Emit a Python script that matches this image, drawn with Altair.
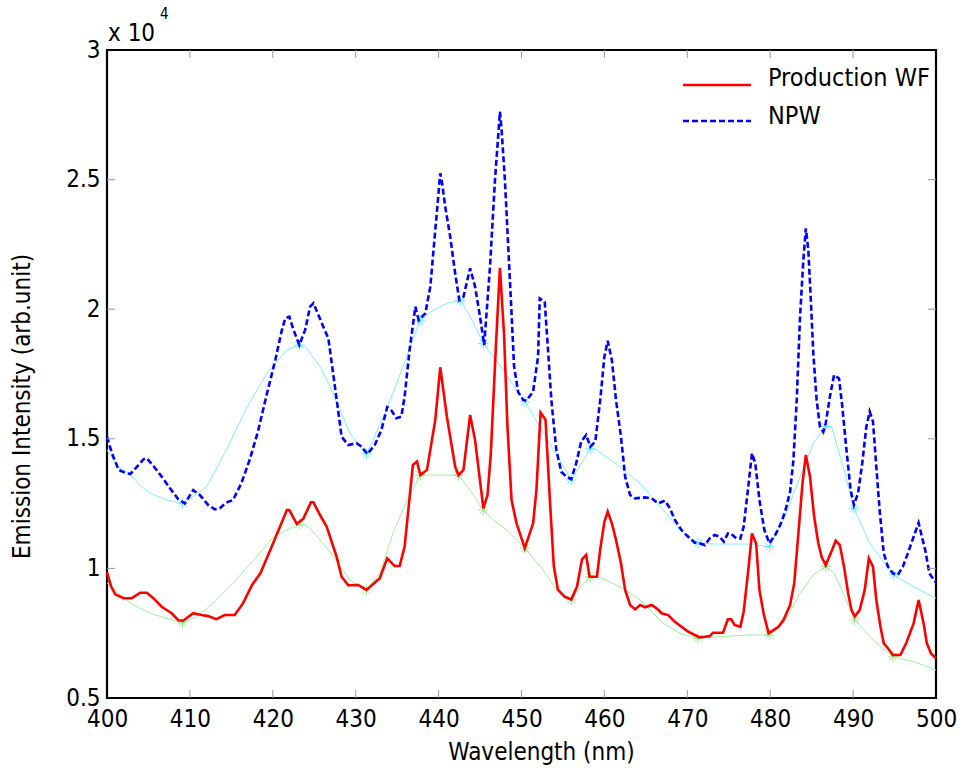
import altair as alt
import pandas as pd

# ---- data (intensity in units of 1e4 arb.unit) ----
wl_prod = [400.0, 400.5, 401.0, 402.0, 403.0, 404.0, 404.8, 405.6, 406.6, 407.8, 408.6, 409.2, 410.4,
           411.4, 412.2, 413.2, 414.2, 415.4, 416.4, 417.5, 418.5, 419.7, 420.7, 421.7, 422.0, 422.9,
           423.7, 424.6, 424.9, 425.7, 426.5, 427.7, 428.3, 429.1, 430.3, 431.3, 432.9, 433.8, 434.7,
           435.3, 435.9, 436.9, 437.4, 437.8, 438.6, 439.6, 440.2, 441.0, 442.0, 442.4, 443.0, 443.8,
           444.4, 445.4, 445.9, 446.3, 446.9, 447.4, 447.9, 448.3, 448.8, 449.4, 450.4, 451.4, 451.8,
           452.3, 452.9, 453.4, 453.9, 454.4, 455.2, 456.0, 456.7, 457.3, 457.8, 458.2, 459.1, 459.5,
           460.0, 460.4, 460.9, 461.4, 462.0, 462.5, 463.1, 463.7, 464.3, 464.9, 465.7, 466.3, 466.9,
           467.7, 468.5, 469.3, 470.1, 470.9, 471.5, 472.1, 472.7, 473.1, 474.3, 474.9, 475.3, 475.7,
           476.4, 476.8, 477.4, 477.8, 478.3, 478.7, 479.2, 479.8, 480.4, 481.0, 481.6, 482.4, 482.9,
           483.4, 483.9, 484.3, 484.8, 485.3, 485.8, 486.2, 486.7, 487.3, 487.9, 488.4, 488.9, 489.4,
           489.8, 490.2, 490.8, 491.4, 491.9, 492.4, 492.8, 493.3, 493.7, 494.2, 494.8, 495.7, 496.4,
           497.3, 497.9, 498.5, 498.9, 499.4, 500.0]
val_prod = [0.985, 0.93, 0.90, 0.885, 0.885, 0.906, 0.906, 0.885, 0.852, 0.827, 0.80, 0.798, 0.827,
            0.82, 0.816, 0.804, 0.82, 0.82, 0.865, 0.936, 0.981, 1.071, 1.148, 1.225, 1.225, 1.171,
            1.193, 1.255, 1.255, 1.206, 1.161, 1.045, 0.968, 0.935, 0.936, 0.917, 0.962, 1.039, 1.009,
            1.009, 1.084, 1.399, 1.412, 1.360, 1.380, 1.573, 1.776, 1.585, 1.392, 1.360, 1.380, 1.592,
            1.495, 1.232, 1.283, 1.444, 1.85, 2.16, 1.90, 1.55, 1.264, 1.174, 1.078, 1.174, 1.302,
            1.601, 1.573, 1.277, 1.007, 0.917, 0.891, 0.880, 0.930, 1.035, 1.052, 0.968, 0.968, 1.075,
            1.180, 1.219, 1.174, 1.110, 1.020, 0.917, 0.859, 0.842, 0.859, 0.850, 0.859, 0.846, 0.827,
            0.820, 0.794, 0.775, 0.756, 0.743, 0.734, 0.736, 0.739, 0.752, 0.752, 0.804, 0.804, 0.782,
            0.775, 0.833, 1.007, 1.135, 1.097, 0.917, 0.827, 0.750, 0.762, 0.775, 0.801, 0.859, 0.943,
            1.135, 1.33, 1.438, 1.354, 1.20, 1.097, 1.045, 1.013, 1.058, 1.107, 1.090, 1.007, 0.904,
            0.840, 0.814, 0.840, 0.917, 1.039, 1.007, 0.878, 0.775, 0.711, 0.692, 0.666, 0.666, 0.711,
            0.788, 0.878, 0.788, 0.711, 0.672, 0.653]

wl_npw = [400.0, 400.6, 401.4, 402.2, 402.8, 403.6, 404.4, 404.8, 405.6, 406.6, 407.6, 408.6, 409.4,
          410.4, 411.2, 412.2, 413.0, 413.6, 414.4, 415.2, 416.2, 417.2, 418.2, 419.2, 420.3, 421.1,
          421.5, 422.0, 422.5, 423.2, 423.9, 424.5, 424.9, 425.5, 426.1, 426.7, 427.5, 428.3, 429.1,
          430.1, 430.7, 431.4, 432.3, 433.1, 433.8, 434.3, 434.9, 435.5, 435.9, 436.5, 437.2, 437.6,
          438.4, 439.0, 439.6, 440.2, 440.4, 440.8, 441.4, 442.0, 442.5, 443.0, 443.8, 444.4, 445.0,
          445.5, 446.2, 446.8, 447.4, 447.6, 448.0, 448.4, 448.8, 449.1, 449.6, 450.2, 450.6, 451.4,
          452.0, 452.2, 452.8, 453.2, 453.6, 454.2, 454.8, 455.4, 456.0, 456.6, 457.2, 457.8, 458.3,
          458.9, 459.5, 460.0, 460.4, 460.9, 461.4, 462.0, 462.5, 463.1, 463.7, 464.9, 465.7, 466.5,
          467.3, 467.9, 468.5, 469.3, 470.1, 470.9, 471.5, 472.1, 472.7, 473.3, 473.9, 474.4, 474.9,
          475.3, 475.9, 476.4, 476.8, 477.4, 477.8, 478.2, 478.7, 479.3, 479.9, 480.6, 481.2, 481.8,
          482.4, 482.8, 483.2, 483.6, 484.0, 484.3, 484.6, 484.9, 485.2, 485.6, 486.0, 486.4, 486.7,
          487.2, 487.7, 488.3, 488.7, 489.2, 489.7, 490.1, 490.6, 491.1, 491.6, 492.0, 492.4, 492.8,
          493.2, 493.7, 494.2, 494.8, 495.4, 496.0, 496.6, 497.3, 497.9, 498.3, 498.7, 499.2, 500.0]
val_npw = [1.508, 1.444, 1.380, 1.369, 1.364, 1.392, 1.421, 1.425, 1.395, 1.354, 1.309, 1.267, 1.251,
           1.302, 1.283, 1.245, 1.228, 1.232, 1.254, 1.264, 1.328, 1.418, 1.527, 1.662, 1.804, 1.920,
           1.965, 1.971, 1.920, 1.862, 1.920, 2.010, 2.023, 1.978, 1.932, 1.888, 1.70, 1.508, 1.476,
           1.483, 1.47, 1.441, 1.476, 1.534, 1.622, 1.61, 1.579, 1.585, 1.662, 1.843, 2.01, 1.958,
           1.984, 2.087, 2.305, 2.524, 2.492, 2.395, 2.28, 2.138, 2.035, 2.048, 2.158, 2.087, 1.971,
           1.862, 2.164, 2.498, 2.762, 2.691, 2.498, 2.241, 1.984, 1.78, 1.68, 1.65, 1.647, 1.682,
           1.817, 2.042, 2.029, 1.843, 1.65, 1.457, 1.373, 1.354, 1.344, 1.406, 1.489, 1.515, 1.47,
           1.489, 1.65, 1.817, 1.878, 1.804, 1.65, 1.508, 1.354, 1.283, 1.27, 1.274, 1.27, 1.251,
           1.261, 1.232, 1.187, 1.148, 1.122, 1.099, 1.097, 1.090, 1.116, 1.129, 1.122, 1.103, 1.135,
           1.133, 1.116, 1.115, 1.161, 1.328, 1.444, 1.405, 1.264, 1.148, 1.097, 1.129, 1.167, 1.219,
           1.296, 1.418, 1.65, 1.971, 2.19, 2.312, 2.228, 2.035, 1.83, 1.65, 1.547, 1.527, 1.560,
           1.662, 1.746, 1.733, 1.624, 1.457, 1.302, 1.245, 1.290, 1.405, 1.547, 1.605, 1.566, 1.392,
           1.225, 1.058, 1.007, 0.981, 0.975, 1.007, 1.058, 1.122, 1.176, 1.122, 1.071, 0.981, 0.945]

wl_npw_base = [400.0, 401.4, 402.8, 404.0, 405.2, 407.2, 409.1, 410.4, 412.0, 414.4, 416.9, 419.3,
               421.7, 423.2, 424.1, 425.7, 426.9, 429.3, 431.3, 433.7, 435.7, 437.8, 439.4, 441.0,
               442.6, 443.6, 445.4, 447.8, 450.4, 453.4, 456.0, 458.3, 459.1, 461.9, 464.3, 467.1,
               469.1, 471.3, 473.5, 477.2, 479.9, 481.6, 483.6, 485.2, 486.7, 487.4, 488.8, 490.1,
               492.0, 494.9, 497.3, 500.0]
val_npw_base = [1.457, 1.39, 1.364, 1.32, 1.29, 1.264, 1.251, 1.277, 1.315, 1.457, 1.624, 1.753,
                1.843, 1.862, 1.849, 1.778, 1.701, 1.521, 1.441, 1.611, 1.778, 1.958, 1.997, 2.023,
                2.033, 1.984, 1.868, 1.765, 1.643, 1.483, 1.341, 1.461, 1.457, 1.392, 1.328, 1.225,
                1.148, 1.097, 1.094, 1.094, 1.084, 1.187, 1.354, 1.483, 1.547, 1.547, 1.392, 1.232,
                1.097, 0.975, 0.929, 0.885]
wl_npw_knots = [409.1, 423.2, 431.3, 437.8, 442.6, 445.4, 450.4, 456.0, 458.3, 471.3, 479.9,
                486.7, 490.1, 494.9]
val_npw_knots = [1.251, 1.862, 1.441, 1.958, 2.033, 1.868, 1.643, 1.341, 1.461, 1.097, 1.084,
                 1.547, 1.232, 0.975]

wl_prod_base = [400.0, 401.6, 403.2, 405.2, 407.2, 409.1, 410.8, 412.8, 415.2, 417.7, 420.1, 421.7,
                423.2, 424.3, 425.7, 426.9, 429.3, 431.3, 432.9, 434.5, 436.2, 437.8, 442.4, 443.8,
                445.4, 446.6, 448.2, 450.4, 452.6, 454.2, 456.0, 457.5, 458.3, 459.7, 461.9, 464.3,
                467.1, 469.1, 471.3, 473.5, 477.2, 479.9, 481.6, 483.6, 485.2, 486.7, 487.6, 489.0,
                490.2, 492.4, 494.8, 497.3, 500.0]
val_prod_base = [0.943, 0.897, 0.859, 0.827, 0.807, 0.79, 0.814, 0.865, 0.943, 1.032, 1.122, 1.148,
                 1.171, 1.161, 1.11, 1.064, 0.955, 0.917, 0.981, 1.135, 1.264, 1.36, 1.36, 1.302,
                 1.225, 1.187, 1.148, 1.078, 0.994, 0.917, 0.878, 0.943, 0.968, 0.962, 0.929, 0.878,
                 0.788, 0.75, 0.730, 0.736, 0.743, 0.743, 0.788, 0.904, 0.975, 1.007, 0.987, 0.891,
                 0.801, 0.724, 0.659, 0.64, 0.608]
wl_prod_knots = [409.1, 423.2, 431.3, 437.8, 442.4, 445.4, 450.4, 456.0, 458.3, 471.3, 479.9,
                 486.7, 490.2, 494.8]
val_prod_knots = [0.79, 1.171, 0.917, 1.36, 1.36, 1.225, 1.078, 0.878, 0.968, 0.730, 0.743,
                  1.007, 0.801, 0.659]

series_names = ["Production WF", "NPW"]
x_ticks = [410, 420, 430, 440, 450, 460, 470, 480, 490]
y_ticks = [1.0, 1.5, 2.0, 2.5]

# ---- tables ----
prod_df = pd.DataFrame({"wl": wl_prod, "val": val_prod})
npw_df = pd.DataFrame({"wl": wl_npw, "val": val_npw})
npw_base_df = pd.DataFrame({"wl": wl_npw_base, "val": val_npw_base})
prod_base_df = pd.DataFrame({"wl": wl_prod_base, "val": val_prod_base})
npw_knot_df = pd.DataFrame({"wl": wl_npw_knots, "val": val_npw_knots})
prod_knot_df = pd.DataFrame({"wl": wl_prod_knots, "val": val_prod_knots})
xt_df = pd.DataFrame({"t": x_ticks})
yt_df = pd.DataFrame({"t": y_ticks})
leg_df = pd.DataFrame({"name": series_names})

W, H = 829, 648
FONT = "DejaVu Sans Condensed"
FS = 24
ASTER = "M-1,0L1,0M0,-1L0,1M-0.7,-0.7L0.7,0.7M-0.7,0.7L0.7,-0.7"
RED, BLUE = "#ff0000", "#0000ff"
DASH = [6, 3]

xscale = alt.Scale(domain=[400, 500], nice=False, zero=False)
yscale = alt.Scale(domain=[0.5, 3], nice=False, zero=False)

xaxis = alt.Axis(values=list(range(400, 501, 10)), title="Wavelength (nm)", ticks=False,
                 domain=False, grid=False, labelFont=FONT, labelFontSize=FS, labelColor="#000",
                 labelPadding=9, titleFont=FONT, titleFontSize=FS, titleFontWeight="normal",
                 titleColor="#000", titleX=434, titleY=54, titleBaseline="middle",
                 labelFlush=False)
yaxis = alt.Axis(values=[0.5, 1, 1.5, 2, 2.5, 3], title="Emission Intensity (arb.unit)", ticks=False,
                 domain=False, grid=False, labelFont=FONT, labelFontSize=FS, labelColor="#000",
                 labelPadding=7, labelExpr="datum.value + ''", titleFont=FONT, titleFontSize=FS,
                 titleFontWeight="normal", titleColor="#000", titleX=-85, titleY=356,
                 titleBaseline="middle", labelFlush=False)

X = alt.X("wl:Q", scale=xscale, axis=xaxis)
Y = alt.Y("val:Q", scale=yscale, axis=yaxis)

npw_base = alt.Chart(npw_base_df).mark_line(color="#80eeff", strokeWidth=1).encode(
    x=X, y=Y, order="wl:Q")
prod_base = alt.Chart(prod_base_df).mark_line(color="#a0f0a0", strokeWidth=1).encode(
    x=X, y=Y, order="wl:Q")
npw_knots = alt.Chart(npw_knot_df).mark_point(shape=ASTER, size=110, color="#40e0ff",
                                             strokeWidth=1, filled=False).encode(x=X, y=Y)
prod_knots = alt.Chart(prod_knot_df).mark_point(shape=ASTER, size=110, color="#70e070",
                                               strokeWidth=1, filled=False).encode(x=X, y=Y)

prod_line = alt.Chart(prod_df).mark_line(color=RED, strokeWidth=2.6).encode(x=X, y=Y, order="wl:Q")
npw_line = alt.Chart(npw_df).mark_line(color=BLUE, strokeWidth=2.6, strokeDash=DASH).encode(
    x=X, y=Y, order="wl:Q")

tick_color = "#999999"
xt_bottom = alt.Chart(xt_df).mark_rule(color=tick_color, strokeWidth=1).encode(
    x=alt.X("t:Q", scale=xscale, axis=xaxis), y=alt.value(H), y2=alt.value(H - 8))
xt_top = alt.Chart(xt_df).mark_rule(color=tick_color, strokeWidth=1).encode(
    x=alt.X("t:Q", scale=xscale, axis=xaxis), y=alt.value(0), y2=alt.value(8))
yt_left = alt.Chart(yt_df).mark_rule(color=tick_color, strokeWidth=1).encode(
    y=alt.Y("t:Q", scale=yscale, axis=yaxis), x=alt.value(0), x2=alt.value(8))
yt_right = alt.Chart(yt_df).mark_rule(color=tick_color, strokeWidth=1).encode(
    y=alt.Y("t:Q", scale=yscale, axis=yaxis), x=alt.value(W), x2=alt.value(W - 8))

# ---- legend (drawn manually) ----
LX0, LX1, LTX = 576, 644, 661
leg_red_line = alt.Chart(leg_df).transform_filter(alt.datum.name == series_names[0]).mark_rule(
    color=RED, strokeWidth=2.6).encode(x=alt.value(LX0), x2=alt.value(LX1), y=alt.value(35))
leg_blue_line = alt.Chart(leg_df).transform_filter(alt.datum.name == series_names[1]).mark_rule(
    color=BLUE, strokeWidth=2.6, strokeDash=DASH).encode(
    x=alt.value(LX0), x2=alt.value(LX1), y=alt.value(71))
leg_red_txt = alt.Chart(leg_df).transform_filter(alt.datum.name == series_names[0]).mark_text(
    font=FONT, fontSize=25, align="left", baseline="middle", color="#000").encode(
    text="name:N", x=alt.value(LTX), y=alt.value(28))
leg_blue_txt = alt.Chart(leg_df).transform_filter(alt.datum.name == series_names[1]).mark_text(
    font=FONT, fontSize=25, align="left", baseline="middle", color="#000").encode(
    text="name:N", x=alt.value(LTX), y=alt.value(66))

exp_df = pd.DataFrame({"txt": ["x 10"], "sup": ["4"]})
exp_main = alt.Chart(exp_df).mark_text(font=FONT, fontSize=FS, align="left", baseline="alphabetic",
                                       color="#000").encode(
    text="txt:N", x=alt.value(1), y=alt.value(-9))
exp_sup = alt.Chart(exp_df).mark_text(font=FONT, fontSize=15, align="left", baseline="alphabetic",
                                      color="#000").encode(
    text="sup:N", x=alt.value(53), y=alt.value(-31))

chart = alt.layer(
    npw_base, prod_base, npw_knots, prod_knots, prod_line, npw_line,
    xt_bottom, xt_top, yt_left, yt_right,
    leg_red_line, leg_blue_line, leg_red_txt, leg_blue_txt, exp_main, exp_sup
).properties(
    width=W, height=H,
    autosize=alt.AutoSizeParams(type="none"),
    padding={"left": 107, "top": 50, "right": 30, "bottom": 77},
    background="white",
).configure_view(stroke="#000", strokeWidth=2.2)

chart.save("out.html", embed_options={"renderer": "svg", "actions": False})
